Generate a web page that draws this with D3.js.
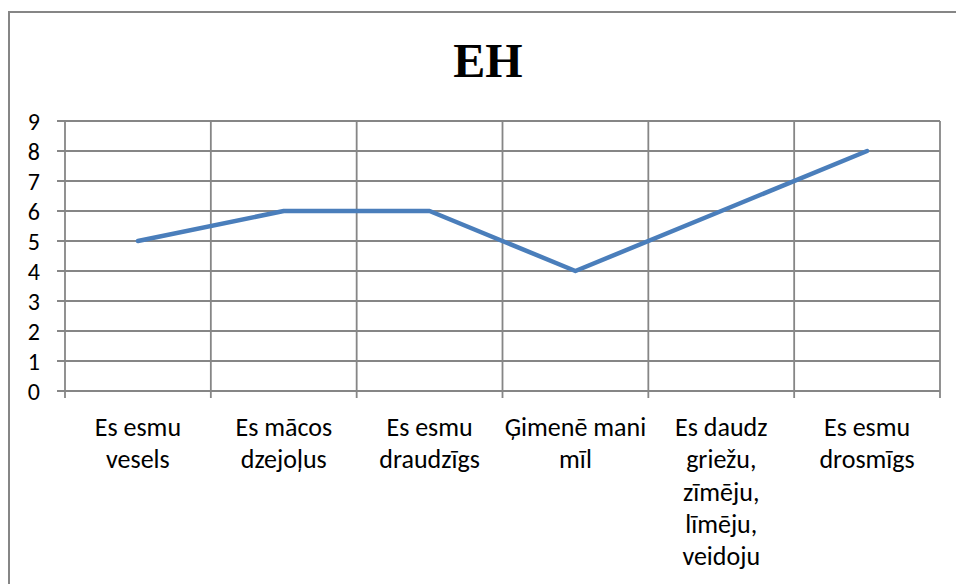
<!DOCTYPE html>
<html><head><meta charset="utf-8">
<script src="https://cdn.jsdelivr.net/npm/d3@7"></script>
<style>html,body{margin:0;padding:0;background:#fff;}svg{display:block;}</style>
</head><body>
<script>
const title = "EH";
const categories = [
  ["Es esmu", "vesels"],
  ["Es mācos", "dzejoļus"],
  ["Es esmu", "draudzīgs"],
  ["Ģimenē mani", "mīl"],
  ["Es daudz", "griežu,", "zīmēju,", "līmēju,", "veidoju"],
  ["Es esmu", "drosmīgs"]
];
const values = [5, 6, 6, 4, 6, 8];
const yTicks = [0, 1, 2, 3, 4, 5, 6, 7, 8, 9];

const W = 956, H = 584;
const svg = d3.select("body").append("svg").attr("width", W).attr("height", H);
svg.append("rect").attr("x", 9).attr("y", 12).attr("width", 1000).attr("height", 1000)
  .attr("fill", "#fff").attr("stroke", "#868686").attr("stroke-width", 2);

const m = {left: 65, right: 940, top: 121, bottom: 391};
const x = d3.scaleBand().domain(d3.range(categories.length)).range([m.left, m.right]);
const y = d3.scaleLinear().domain([0, 9]).range([m.bottom, m.top]);
const grid = "#868686";
const font = "Carlito, 'Liberation Sans', sans-serif";

// horizontal grid
svg.append("g").selectAll("line").data(yTicks).join("line")
  .attr("x1", m.left - 8).attr("x2", m.right)
  .attr("y1", d => y(d)).attr("y2", d => y(d))
  .attr("stroke", grid).attr("stroke-width", 1.8);
// vertical grid at category boundaries
const bounds = d3.range(categories.length + 1).map(i => i < categories.length ? x(i) : x(i - 1) + x.bandwidth());
svg.append("g").selectAll("line").data(bounds).join("line")
  .attr("x1", d => d).attr("x2", d => d)
  .attr("y1", m.top).attr("y2", m.bottom + 7)
  .attr("stroke", grid).attr("stroke-width", 1.8);

// y labels
svg.append("g").selectAll("text").data(yTicks).join("text")
  .attr("x", 40).attr("y", d => y(d)).attr("dy", "0.36em")
  .attr("text-anchor", "end").attr("font-family", font)
  .attr("font-size", 24).attr("fill", "#000").text(d => d);

// x labels
const xl = svg.append("g").selectAll("text").data(categories).join("text")
  .attr("text-anchor", "middle").attr("font-family", font)
  .attr("font-size", 26).attr("fill", "#000")
  .attr("transform", (d, i) => `translate(${x(i) + x.bandwidth() / 2},436)`);
xl.selectAll("tspan").data(d => d).join("tspan")
  .attr("x", 0).attr("y", (d, i) => i * 32.3).text(d => d);

// line
const line = d3.line().x((d, i) => x(i) + x.bandwidth() / 2).y(d => y(d));
svg.append("path").datum(values).attr("d", line)
  .attr("fill", "none").attr("stroke", "#4A7EBB").attr("stroke-width", 4.5)
  .attr("stroke-linejoin", "round").attr("stroke-linecap", "round");

// title
svg.append("text").attr("x", 488).attr("y", 77).attr("text-anchor", "middle")
  .attr("font-family", "'Liberation Serif', 'Times New Roman', serif").attr("font-weight", "bold")
  .attr("font-size", 48).attr("fill", "#000").text(title);
</script>
</body></html>
